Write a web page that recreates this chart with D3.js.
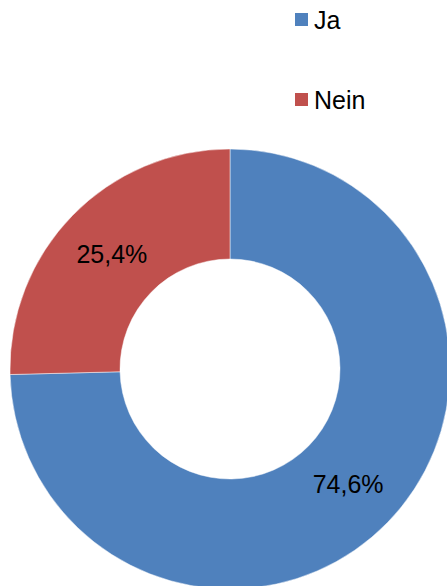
<!doctype html>
<html>
  <head>
    <meta charset="utf-8">
    <title>Ja / Nein</title>
    <script src="https://cdn.jsdelivr.net/npm/d3@7"></script>
    <style>
    body {
      margin: 0;
      background: #fff;
    }

    text {
      font-family: "Liberation Sans", Arial, sans-serif;
      fill: #000;
    }
    </style>
  </head>
  <body>
    <script>
      // data
      var categories = ["Ja", "Nein"];
      var shares = [74.6, 25.4];
      var colours = ["#4F81BD", "#C0504D"];

      var w_svg = 447;
      var h_svg = 586;

      var cx = 230, cy = 369;
      var r_outer = 220, r_inner = 110;

      var svg = d3.select("body")
                  .append("svg")
                  .attr("width", w_svg)
                  .attr("height", h_svg);

      var pie = d3.pie()
                  .sort(null)
                  .value(function(d){ return d; });

      var arc = d3.arc()
                  .innerRadius(r_inner)
                  .outerRadius(r_outer);

      var colour = d3.scaleOrdinal()
                     .domain(categories)
                     .range(colours);

      var g = svg.append("g")
                 .attr("transform", "translate(" + cx + "," + cy + ")");

      var slices = g.selectAll("g.slice")
                    .data(pie(shares))
                    .enter().append("g")
                    .attr("class", "slice");

      slices.append("path")
            .attr("d", arc)
            .attr("fill", function(d, i){ return colour(categories[i]); })
            .attr("stroke", "#fff")
            .attr("stroke-opacity", 0.6)
            .attr("stroke-width", 0.8);

      // percent labels at the centroid
      slices.append("text")
            .attr("transform", function(d){ return "translate(" + arc.centroid(d) + ")"; })
            .attr("text-anchor", "middle")
            .attr("dy", "0.36em")
            .style("font-size", "25px")
            .text(function(d){ return d.data.toFixed(1).replace(".", ",") + "%"; });

      // legend
      var legend = svg.selectAll("g.legend")
                      .data(categories)
                      .enter().append("g")
                      .attr("class", "legend")
                      .attr("transform", function(d, i){ return "translate(295," + (13 + i * 80) + ")"; });

      legend.append("rect")
            .attr("width", 13)
            .attr("height", 13)
            .attr("fill", function(d){ return colour(d); });

      legend.append("text")
            .attr("x", 19)
            .attr("y", 16)
            .style("font-size", "25px")
            .text(function(d){ return d; });
    </script>
  </body>
</html>
